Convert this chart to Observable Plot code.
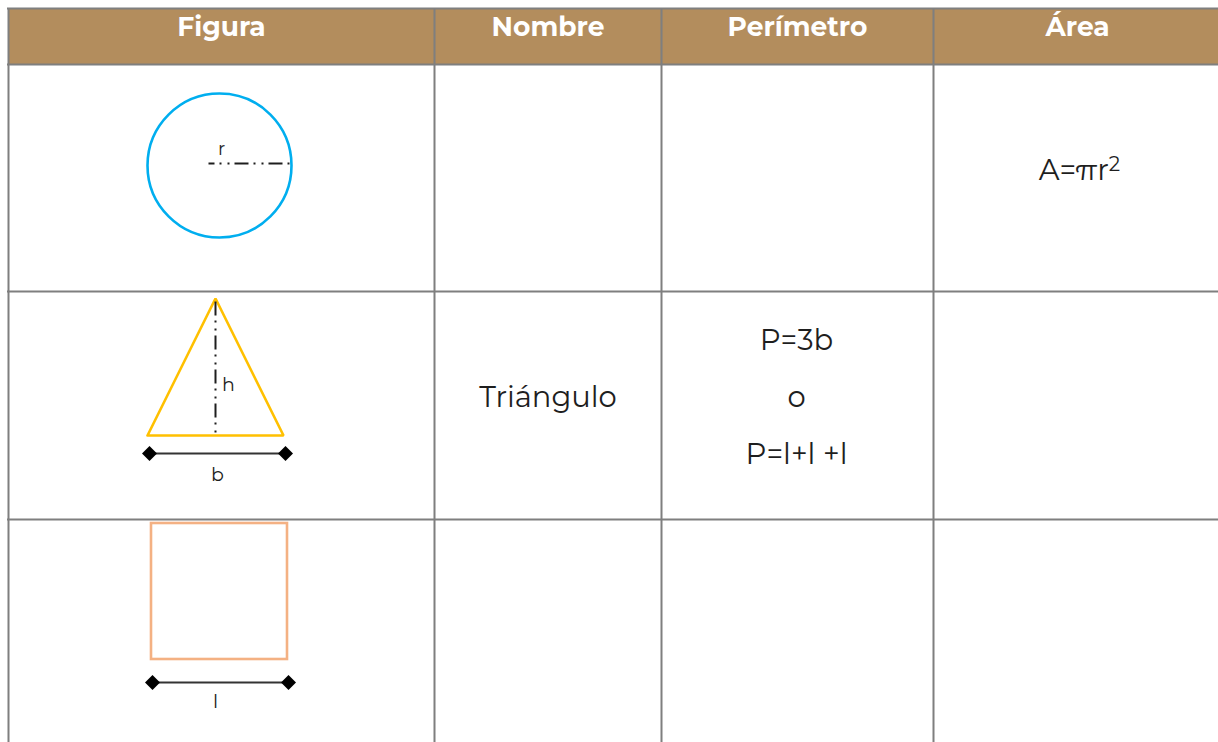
<!DOCTYPE html>
<html><head><meta charset="utf-8">
<script src="https://cdn.jsdelivr.net/npm/d3@7"></script>
<script src="https://cdn.jsdelivr.net/npm/@observablehq/plot@0.6"></script>
<style>body{margin:0;background:#fff}#chart svg{display:block;background:#fff}</style>
</head><body><div id="chart"></div>
<script>
// ---- data ----
const headers = ["Figura", "Nombre", "Perímetro", "Área"];
const figures = ["círculo", "triángulo", "cuadrado"];
const nombres = ["", "Triángulo", ""];
const perimetros = [[], ["P=3b", "o", "P=l+l +l"], []];
const areas = ["A=πr^2", "", ""];
const dimLabels = {circulo: "r", altura: "h", base: "b", lado: "l"};

// ---- layout ----
const W = 1218, H = 742;
const colEdges = [8, 434, 661, 933, 1230];
const rowEdges = [8, 64, 291, 519, 750];
const colMid = i => (colEdges[i] + colEdges[i + 1]) / 2;
const gridColor = "#7f7f7f";
const headFill = "#b38d5d";
const ink = "#1e1e1e";
const font = "Montserrat, Inter, sans-serif";

// figure geometry (px)
const circle = {cx: 219, cy: 165, r: 72};
const tri = {apex: 298, base: 435, half: 68, cx: 215};
const sq = {x1: 151, x2: 287, y1: 523, y2: 659};

const headerCells = headers.map((h, i) => ({h, x1: colEdges[i], x2: Math.min(colEdges[i + 1], W + 10), x: i === 3 ? 1077 : colMid(i)}));
const triPts = [
  {x: tri.cx - tri.half, y: tri.base},
  {x: tri.cx, y: tri.apex},
  {x: tri.cx + tri.half, y: tri.base},
  {x: tri.cx - tri.half, y: tri.base}
];
const dims = [
  {x1: 149, x2: 285, y: 453, label: dimLabels.base, ly: 474, lx: 217},
  {x1: 152, x2: 288, y: 682, label: dimLabels.lado, ly: 701, lx: 215}
];
const dimEnds = dims.flatMap(d => [{x: d.x1, y: d.y}, {x: d.x2, y: d.y}]);

const rowCenter = [177, 397, 625];
const nameTexts = nombres.map((t, i) => ({t, x: colMid(1), y: rowCenter[i]})).filter(d => d.t);
const periTexts = perimetros.flatMap((arr, i) => arr.map((t, j) => ({t, x: colMid(2) - 1, y: rowCenter[i] + (j - 1) * 57})));
const areaTexts = areas.map((t, i) => ({t, x: 1079, y: rowCenter[i] - 7})).filter(d => d.t);

const dashPat = "14,5,2,6,2,5";

const plot = Plot.plot({
  width: W, height: H,
  margin: 0,
  x: {domain: [0, W], range: [0, W], axis: null},
  y: {domain: [0, H], range: [0, H], axis: null},
  r: {type: "identity"},
  style: {fontFamily: font, background: "#fff"},
  marks: [
    Plot.rect(headerCells, {x1: "x1", x2: "x2", y1: rowEdges[0], y2: rowEdges[1], fill: headFill}),
    Plot.ruleX(colEdges.slice(0, 4), {y1: rowEdges[0], y2: H + 5, stroke: gridColor, strokeWidth: 2}),
    Plot.ruleY(rowEdges.slice(0, 4), {x1: colEdges[0] - 1, x2: W + 5, stroke: gridColor, strokeWidth: 2}),
    Plot.text(headerCells, {x: "x", y: 27, text: "h", fill: "#fff", fontSize: 26.5, fontWeight: "bold"}),
    // circle
    Plot.dot([circle], {x: "cx", y: "cy", r: "r", stroke: "#00aeef", strokeWidth: 2.6, fill: "none"}),
    Plot.link([circle], {x1: d => d.cx - 11, x2: d => d.cx + d.r - 2, y1: d => d.cy - 2, y2: d => d.cy - 2, stroke: ink, strokeWidth: 2, strokeDasharray: dashPat, strokeDashoffset: 8}),
    Plot.text([circle], {x: d => d.cx + 2, y: d => d.cy - 16, text: () => dimLabels.circulo, fill: ink, fontSize: 18}),
    // triangle
    Plot.line(triPts, {x: "x", y: "y", stroke: "#ffc000", strokeWidth: 2.6, strokeLinejoin: "miter"}),
    Plot.link([tri], {x1: "cx", x2: "cx", y1: d => d.apex + 3, y2: "base", stroke: ink, strokeWidth: 2, strokeDasharray: dashPat}),
    Plot.text([tri], {x: d => d.cx + 13, y: 384, text: () => dimLabels.altura, fill: ink, fontSize: 19}),
    // square
    Plot.rect([sq], {x1: "x1", x2: "x2", y1: "y1", y2: "y2", stroke: "#f4b183", strokeWidth: 2.6, fill: "none"}),
    // dimension lines
    Plot.link(dims, {x1: "x1", x2: "x2", y1: "y", y2: "y", stroke: "#333", strokeWidth: 2}),
    Plot.dot(dimEnds, {x: "x", y: "y", symbol: "square", r: 6, fill: "#000", rotate: 45}),
    Plot.text(dims, {x: "lx", y: "ly", text: "label", fill: ink, fontSize: 19}),
    // text cells
    Plot.text(nameTexts, {x: "x", y: "y", text: "t", fill: ink, fontSize: 29}),
    Plot.text(periTexts, {x: "x", y: "y", text: "t", fill: ink, fontSize: 29}),
    Plot.text(areaTexts, {x: "x", y: "y", text: "t", fill: ink, fontSize: 29})
  ]
});

// superscript handling for "^2"
d3.select(plot).selectAll("text").each(function () {
  const t = this.textContent;
  const k = t.indexOf("^");
  if (k >= 0) {
    const el = d3.select(this);
    el.text(t.slice(0, k));
    el.append("tspan").attr("dy", "-0.45em").style("font-size", "20px").text(t.slice(k + 1));
  }
});

document.getElementById("chart").appendChild(plot);
</script></body></html>
